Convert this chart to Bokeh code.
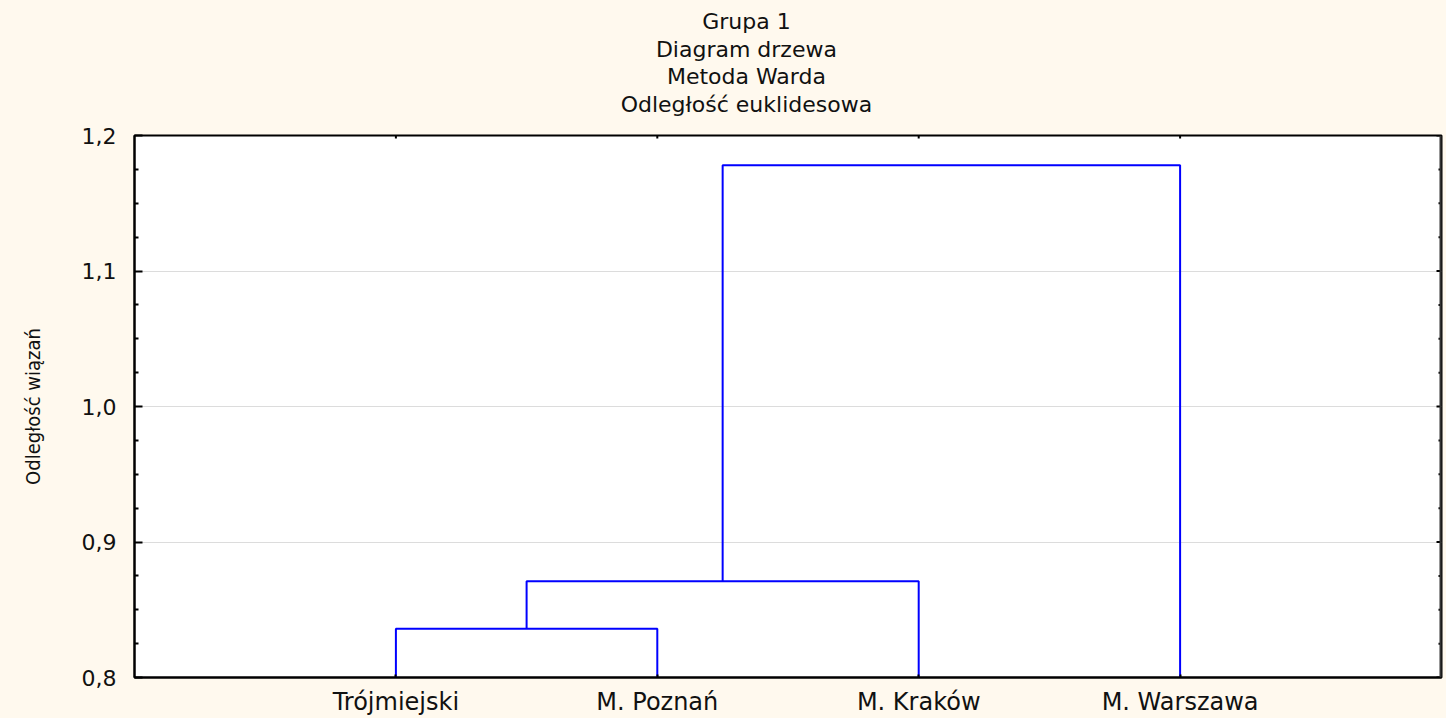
import math
from bokeh.plotting import figure
from bokeh.layouts import column
from bokeh.models import FixedTicker, Range1d, Span
from bokeh.core.properties import value
from bokeh.embed import file_html
from bokeh.resources import INLINE

# ---- data ----
leaf_labels = ["Trójmiejski", "M. Poznań", "M. Kraków", "M. Warszawa"]
leaf_pos = [1, 2, 3, 4]
# merges: (left member, right member, linkage distance); members >= 0 are leaf indices,
# negative members -k refer to merge number k (1-based)
merge_left = [0, -1, -2]
merge_right = [1, 2, 3]
merge_height = [0.836, 0.871, 1.178]
y_ticks = [0.8, 0.9, 1.0, 1.1, 1.2]
y_tick_labels = ["0,8", "0,9", "1,0", "1,1", "1,2"]
y_minor_ticks = [0.825, 0.85, 0.875, 0.925, 0.95, 0.975, 1.025, 1.05, 1.075,
                 1.125, 1.15, 1.175]
x_min, x_max = 0, 5
base = y_ticks[0]

title_lines = ["Grupa 1", "Diagram drzewa", "Metoda Warda", "Odległość euklidesowa"]
y_label = "Odległość wiązań"

# ---- build dendrogram links from the data ----
node_x, node_y = {}, {}
for i, x in enumerate(leaf_pos):
    node_x[i] = x
    node_y[i] = base
xs, ys = [], []
for k, (a, b, h) in enumerate(zip(merge_left, merge_right, merge_height), start=1):
    ka = a if a >= 0 else ("m", -a)
    kb = b if b >= 0 else ("m", -b)
    xa, ya_ = node_x[ka], node_y[ka]
    xb, yb = node_x[kb], node_y[kb]
    xs.append([xa, xa, xb, xb])
    ys.append([ya_, h, h, yb])
    node_x[("m", k)] = (xa + xb) / 2
    node_y[("m", k)] = h

BG = "#FFF9EE"
FONT = "DejaVu Sans"
TXT = "#111111"

W = 1446
TH = 117          # height of the title strip
MH = 718 - TH     # height of the chart

# ---- title strip (pixel-like coordinates, y downward) ----
pt = figure(width=W, height=TH, output_backend="svg", toolbar_location=None,
            x_range=Range1d(0, W), y_range=Range1d(TH, 0),
            x_axis_type=None, y_axis_type=None,
            background_fill_color=BG, border_fill_color=BG,
            min_border_left=0, min_border_right=0, min_border_top=0,
            min_border_bottom=0, outline_line_color=None, title=None)
pt.xgrid.visible = False
pt.ygrid.visible = False
title_cx = 677
first_line_y = 21
line_pitch = 27.5
pt.text(x=[title_cx] * len(title_lines),
        y=[first_line_y + i * line_pitch for i in range(len(title_lines))],
        text=title_lines, text_align="center", text_baseline="middle",
        text_font=value(FONT), text_font_size="22px", text_color=TXT)

# ---- chart ----
p = figure(width=W, height=MH, output_backend="svg", toolbar_location=None,
           x_range=Range1d(x_min, x_max), y_range=Range1d(y_ticks[0], y_ticks[-1]),
           background_fill_color="white", border_fill_color=BG,
           min_border_left=134, min_border_right=5, min_border_top=18,
           min_border_bottom=40, title=None)

p.multi_line(xs, ys, line_color="#0000FF", line_width=2)

p.outline_line_color = "black"
p.outline_line_width = 2

# y axis
yax = p.yaxis[0]
yax.ticker = FixedTicker(ticks=y_ticks, minor_ticks=y_minor_ticks)
yax.major_label_overrides = {t: l for t, l in zip(y_ticks, y_tick_labels)}
yax.major_tick_in = 8
yax.major_tick_out = 0
yax.minor_tick_in = 4
yax.minor_tick_out = 0
yax.major_tick_line_width = 2
yax.minor_tick_line_width = 2
yax.major_label_standoff = 18
yax.major_label_text_font = FONT
yax.major_label_text_font_size = "22px"
yax.major_label_text_color = TXT
yax.axis_label = y_label
yax.axis_label_text_font = "DejaVu Sans Condensed"
yax.axis_label_text_font_style = "normal"
yax.axis_label_text_font_size = "20px"
yax.axis_label_text_color = TXT
yax.axis_label_standoff = 34
yax.axis_line_color = "black"
yax.axis_line_width = 2

# x axis
xax = p.xaxis[0]
xax.ticker = FixedTicker(ticks=leaf_pos, minor_ticks=[])
xax.major_label_overrides = {t: l for t, l in zip(leaf_pos, leaf_labels)}
xax.major_tick_in = 3
xax.major_tick_out = 0
xax.major_tick_line_width = 2
xax.major_label_standoff = 10
xax.major_label_text_font = FONT
xax.major_label_text_font_size = "24px"
xax.major_label_text_color = TXT
xax.axis_line_color = "black"
xax.axis_line_width = 2

# inward ticks on the top and right frame edges (markers centred on the edge,
# the outer half is clipped by the frame)
p.scatter(x=leaf_pos, y=[y_ticks[-1]] * len(leaf_pos), marker="dash",
          angle=math.pi / 2, size=6, line_color="black", line_width=2)
p.scatter(x=[x_max] * len(y_ticks), y=y_ticks, marker="dash",
          size=10, line_color="black", line_width=2)
p.scatter(x=[x_max] * len(y_minor_ticks), y=y_minor_ticks, marker="dash",
          size=6, line_color="black", line_width=2)

# heavier right edge of the frame
p.add_layout(Span(location=x_max, dimension="height", line_color="#333333",
                  line_width=4))

p.xgrid.grid_line_color = None
p.ygrid.ticker = FixedTicker(ticks=y_ticks)
p.ygrid.grid_line_color = "#DCDCDC"
p.ygrid.grid_line_width = 1

layout = column(pt, p, spacing=0, styles={"background-color": BG})
open("out.html", "w").write(file_html(layout, INLINE))
